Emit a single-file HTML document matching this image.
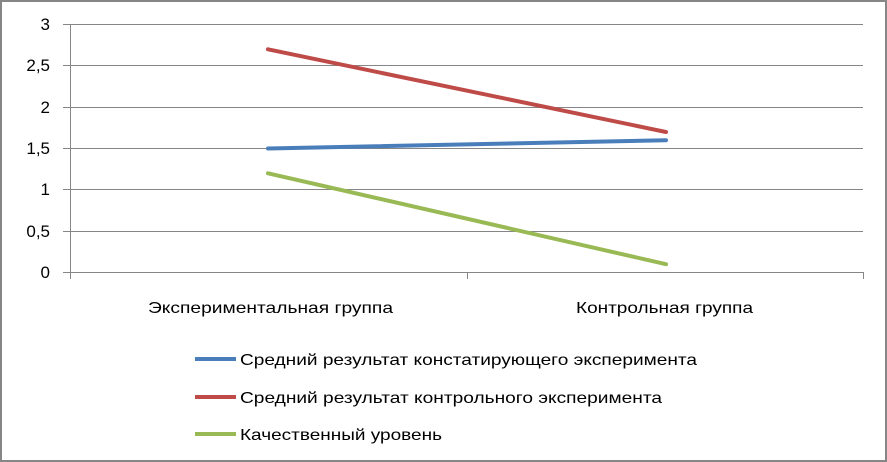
<!DOCTYPE html>
<html><head><meta charset="utf-8"><style>
html,body{margin:0;padding:0;background:#fff;}
svg{display:block;}
text{font-family:"Liberation Sans","DejaVu Sans",sans-serif;fill:#000;}
</style></head><body>
<svg width="887" height="462" viewBox="0 0 887 462" xmlns="http://www.w3.org/2000/svg">
<rect x="1" y="1" width="885" height="460" fill="#fff" stroke="#868686" stroke-width="2"/>
<g stroke="#868686" stroke-width="1" fill="none">
<line x1="63" y1="24.5" x2="863" y2="24.5"/>
<line x1="63" y1="65.5" x2="863" y2="65.5"/>
<line x1="63" y1="107.5" x2="863" y2="107.5"/>
<line x1="63" y1="148.5" x2="863" y2="148.5"/>
<line x1="63" y1="189.5" x2="863" y2="189.5"/>
<line x1="63" y1="231.5" x2="863" y2="231.5"/>
<line x1="63" y1="272.5" x2="863" y2="272.5"/>
<line x1="70.5" y1="24" x2="70.5" y2="279"/>
<line x1="467.5" y1="272" x2="467.5" y2="279"/>
<line x1="863.5" y1="272" x2="863.5" y2="279"/>
</g>
<g font-size="17" text-anchor="end">
<text x="50" y="30">3</text>
<text x="50" y="71">2,5</text>
<text x="50" y="113">2</text>
<text x="50" y="154">1,5</text>
<text x="50" y="195">1</text>
<text x="50" y="237">0,5</text>
<text x="50" y="278">0</text>
</g>
<g font-size="16">
<text x="148" y="313" textLength="245" lengthAdjust="spacingAndGlyphs">Экспериментальная группа</text>
<text x="576" y="313" textLength="177" lengthAdjust="spacingAndGlyphs">Контрольная группа</text>
</g>
<g stroke-width="4" stroke-linecap="round" fill="none">
<line x1="268" y1="148.5" x2="666" y2="140.2" stroke="#4A7EBB"/>
<line x1="268" y1="49.3" x2="666" y2="132" stroke="#BE4B48"/>
<line x1="268" y1="173.3" x2="666" y2="264.2" stroke="#98B954"/>
</g>
<g stroke-width="4" fill="none">
<line x1="195" y1="359" x2="236" y2="359" stroke="#4A7EBB"/>
<line x1="195" y1="397" x2="236" y2="397" stroke="#BE4B48"/>
<line x1="195" y1="434" x2="236" y2="434" stroke="#98B954"/>
</g>
<g font-size="16">
<text x="240" y="365" textLength="457" lengthAdjust="spacingAndGlyphs">Средний результат констатирующего эксперимента</text>
<text x="240" y="403" textLength="422" lengthAdjust="spacingAndGlyphs">Средний результат контрольного эксперимента</text>
<text x="240" y="440" textLength="202" lengthAdjust="spacingAndGlyphs">Качественный уровень</text>
</g>
</svg>
</body></html>
